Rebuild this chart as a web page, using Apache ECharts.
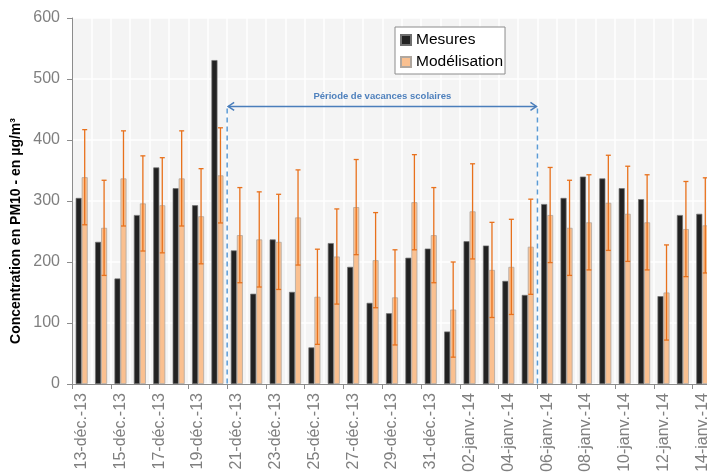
<!DOCTYPE html>
<html>
<head>
<meta charset="utf-8">
<script src="https://cdn.jsdelivr.net/npm/echarts@6/dist/echarts.min.js"></script>
<style>
  html, body { margin: 0; padding: 0; background: #ffffff; }
  #chart { width: 707px; height: 472px; }
</style>
</head>
<body>
<div id="chart"></div>
<script>
// Daily PM10 concentrations, 13 Dec 2013 to 14 Jan 2014
const dates = [
  '13-déc.-13', '14-déc.-13', '15-déc.-13', '16-déc.-13', '17-déc.-13', '18-déc.-13',
  '19-déc.-13', '20-déc.-13', '21-déc.-13', '22-déc.-13', '23-déc.-13', '24-déc.-13',
  '25-déc.-13', '26-déc.-13', '27-déc.-13', '28-déc.-13', '29-déc.-13', '30-déc.-13',
  '31-déc.-13', '01-janv.-14', '02-janv.-14', '03-janv.-14', '04-janv.-14', '05-janv.-14',
  '06-janv.-14', '07-janv.-14', '08-janv.-14', '09-janv.-14', '10-janv.-14', '11-janv.-14',
  '12-janv.-14', '13-janv.-14', '14-janv.-14'
];

// Measured values (µg/m³)
const mesures = [
  305, 233, 173, 277, 355, 321, 293, 531, 219, 148, 237, 151,
  60, 231, 192, 133, 116, 207, 222, 86, 234, 227, 169, 146,
  295, 305, 340, 337, 321, 303, 144, 277, 279
];

// Modelled values (µg/m³)
const modelisation = [
  339, 256, 337, 296, 293, 337, 275, 342, 244, 237, 233, 273,
  143, 209, 290, 203, 142, 298, 244, 122, 283, 187, 192, 225,
  277, 256, 265, 297, 279, 265, 150, 254, 260
];

// Model uncertainty (± µg/m³)
const incertitude = [
  78, 78, 78, 78, 78, 78, 78, 78, 78, 78, 78, 78,
  78, 78, 78, 78, 78, 78, 78, 78, 78, 78, 78, 78,
  78, 78, 78, 78, 78, 78, 78, 78, 78
];

// School holidays: first and first-after-last day
const vacancesDebut = '21-déc.-13';
const vacancesFin = '06-janv.-14';
const vacancesTexte = 'Période de vacances scolaires';
const vacancesNiveau = 455;

const FONT = 'Liberation Sans, Arial, sans-serif';
const BAR_W = 6;

const chart = echarts.init(document.getElementById('chart'), null, { renderer: 'canvas' });

const errData = dates.map((d, i) => [i, modelisation[i], incertitude[i]]);

chart.setOption({
  animation: false,
  backgroundColor: '#ffffff',
  grid: {
    left: 72, top: 18, width: 640, bottom: 88,
    outerBoundsMode: 'none', containLabel: false,
    show: true, backgroundColor: '#f4f4f4', borderWidth: 0
  },
  legend: {
    data: ['Mesures', 'Modélisation'],
    orient: 'vertical',
    left: 395, top: 27,
    padding: [5, 2, 4, 5],
    itemGap: 6,
    itemWidth: 10, itemHeight: 10,
    icon: 'rect',
    backgroundColor: '#ffffff',
    borderColor: '#8c8c8c', borderWidth: 1,
    textStyle: { fontFamily: FONT, fontSize: 15.5, color: '#000000' }
  },
  xAxis: {
    type: 'category',
    data: dates,
    axisLine: { lineStyle: { color: '#8c8c8c', width: 1 } },
    axisTick: { show: true, interval: 1, length: 5, lineStyle: { color: '#8c8c8c' } },
    axisLabel: {
      interval: 1, rotate: 90, margin: 9,
      fontFamily: FONT, fontSize: 16, color: '#7f7f7f'
    },
    splitLine: { show: true, interval: 0, lineStyle: { color: '#ffffff', width: 1.5 } }
  },
  yAxis: {
    type: 'value',
    min: 0, max: 600, interval: 100,
    axisLine: { show: true, lineStyle: { color: '#8c8c8c', width: 1 } },
    axisTick: { show: true, length: 5, lineStyle: { color: '#8c8c8c' } },
    axisLabel: { fontFamily: FONT, fontSize: 16, color: '#7f7f7f', margin: 12 },
    splitLine: { show: true, lineStyle: { color: '#ffffff', width: 1.5 } }
  },
  series: [
    {
      name: 'Mesures',
      type: 'bar',
      data: mesures,
      barWidth: BAR_W,
      barGap: '0%',
      itemStyle: { color: '#222222', borderColor: '#707070', borderWidth: 0.7 }
    },
    {
      name: 'Modélisation',
      type: 'bar',
      data: modelisation,
      barWidth: BAR_W,
      barGap: '0%',
      itemStyle: { color: '#fac090', borderColor: '#b0a79f', borderWidth: 0.8 }
    },
    {
      name: 'Incertitude',
      type: 'custom',
      data: errData,
      encode: { x: 0, y: 1 },
      z: 5,
      renderItem: function (params, api) {
        const i = api.value(0);
        const v = api.value(1);
        const e = api.value(2);
        const top = api.coord([i, v + e]);
        const bot = api.coord([i, v - e]);
        const x = top[0] + BAR_W / 2;
        const cap = 2.5;
        const style = { stroke: '#e8711c', lineWidth: 1.3 };
        return {
          type: 'group',
          children: [
            { type: 'line', shape: { x1: x, y1: top[1], x2: x, y2: bot[1] }, style: style },
            { type: 'line', shape: { x1: x - cap, y1: top[1], x2: x + cap, y2: top[1] }, style: style },
            { type: 'line', shape: { x1: x - cap, y1: bot[1], x2: x + cap, y2: bot[1] }, style: style }
          ]
        };
      }
    }
  ]
});

// Holiday period annotation, placed on category boundaries
function boundaryX(name) {
  const idx = dates.indexOf(name);
  const c0 = chart.convertToPixel({ xAxisIndex: 0 }, 0);
  const c1 = chart.convertToPixel({ xAxisIndex: 0 }, 1);
  const band = c1 - c0;
  return chart.convertToPixel({ xAxisIndex: 0 }, idx) - band / 2;
}
const xa = boundaryX(vacancesDebut);
const xb = boundaryX(vacancesFin);
const ya = chart.convertToPixel({ yAxisIndex: 0 }, vacancesNiveau);
const y0 = chart.convertToPixel({ yAxisIndex: 0 }, 0);
const ah = 7, aw = 4;
const arrowStyle = { stroke: '#4a7ebb', lineWidth: 1.5, fill: null };
const dashStyle = { stroke: '#5b9bd5', lineWidth: 1.5, lineDash: [5, 4] };

chart.setOption({
  graphic: [
    { type: 'line', z: 10, shape: { x1: xa, y1: ya + 2, x2: xa, y2: y0 }, style: dashStyle },
    { type: 'line', z: 10, shape: { x1: xb, y1: ya + 2, x2: xb, y2: y0 }, style: dashStyle },
    { type: 'line', z: 10, shape: { x1: xa + 1, y1: ya, x2: xb - 1, y2: ya }, style: arrowStyle },
    { type: 'polyline', z: 10, shape: { points: [[xa + ah, ya - aw], [xa + 1, ya], [xa + ah, ya + aw]] }, style: arrowStyle },
    { type: 'polyline', z: 10, shape: { points: [[xb - ah, ya - aw], [xb - 1, ya], [xb - ah, ya + aw]] }, style: arrowStyle },
    {
      type: 'text', z: 10,
      x: (xa + xb) / 2, y: ya - 5,
      style: {
        text: vacancesTexte, fontFamily: FONT, fontSize: 9.5, fontWeight: 'bold',
        fill: '#4f81bd', align: 'center', verticalAlign: 'bottom'
      }
    },
    {
      type: 'text', z: 10,
      x: 16, y: 231, rotation: Math.PI / 2,
      style: {
        text: 'Concentration en PM10 - en µg/m³', fontFamily: FONT, fontSize: 14,
        fontWeight: 'bold', fill: '#000000', align: 'center', verticalAlign: 'middle'
      }
    }
  ]
});
</script>
</body>
</html>
